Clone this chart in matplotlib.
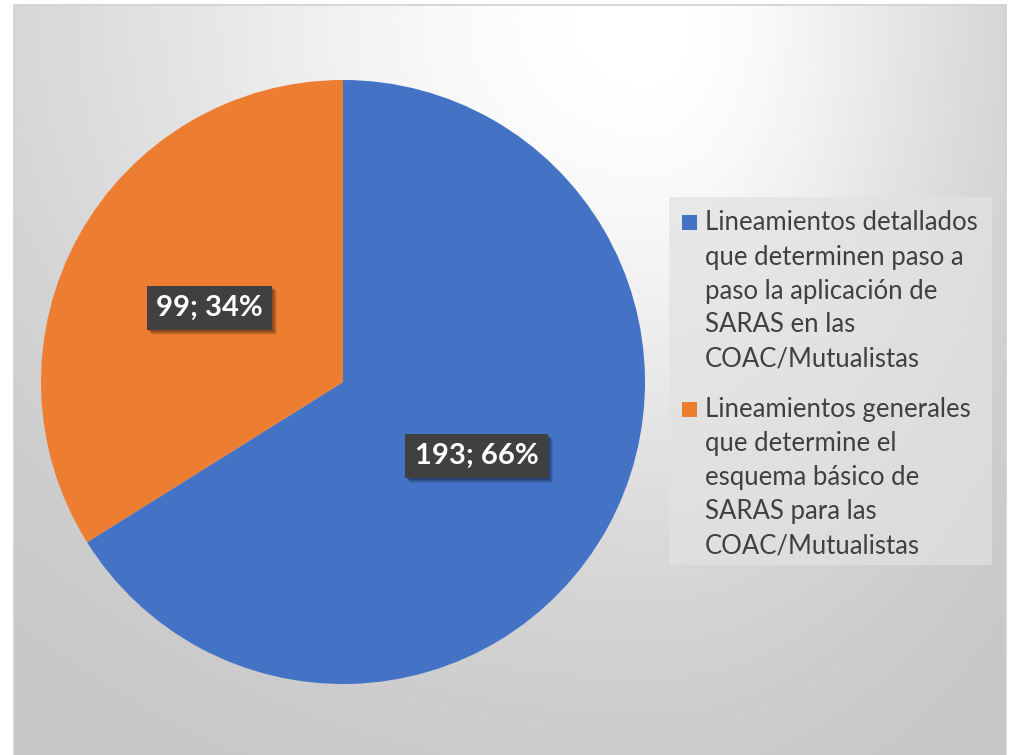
import numpy as np
import matplotlib
matplotlib.use("Agg")
import matplotlib.pyplot as plt
from matplotlib.patches import Rectangle
from matplotlib.transforms import IdentityTransform

plt.rcParams['font.family'] = ['Lato', 'DejaVu Sans']

# Survey answers
categories = [
    "Lineamientos detallados\nque determinen paso a\npaso la aplicación de\nSARAS en las\nCOAC/Mutualistas",
    "Lineamientos generales\nque determine el\nesquema básico de\nSARAS para las\nCOAC/Mutualistas",
]
counts = [193, 99]
colors = ["#4472C4", "#ED7D31"]

W, H = 1011, 755
fig = plt.figure(figsize=(W / 100, H / 100), dpi=100)
fig.patch.set_facecolor("white")

# Chart-area background: soft radial light falloff
bg = fig.add_axes([0, 0, 1, 1])
bg.set_xlim(0, W)
bg.set_ylim(H, 0)
bg.axis("off")
x0, x1, y0, y1 = 14, 1006, 5, H
xs = np.arange(x0, x1) + 0.5
ys = np.arange(y0, y1) + 0.5
X, Y = np.meshgrid(xs, ys)
cx, cy = 650, 20
sx = np.where(X < cx, 600.0, 330.0)
g = np.exp(-(((X - cx) / sx) ** 2 + ((Y - cy) / 520.0) ** 2))
v = (195 + 60 * g) / 255.0
bg.imshow(v, cmap="gray", vmin=0, vmax=1, extent=(x0, x1, y1, y0),
          interpolation="bilinear", aspect="auto", zorder=0)
bg.add_patch(Rectangle((x0, y0), x1 - x0, y1 - y0 + 5, fill=False,
                       edgecolor="#D0D0D0", linewidth=1.2, zorder=1))

# Pie
pcx, pcy, r = 343, 382, 302
ax = fig.add_axes([(pcx - r) / W, (H - pcy - r) / H, 2 * r / W, 2 * r / H])
total = sum(counts)
wedges, _ = ax.pie(counts, colors=colors, startangle=90, counterclock=False,
                   radius=1.0, wedgeprops=dict(linewidth=0))
ax.set_xlim(-1, 1)
ax.set_ylim(-1, 1)
ax.set_aspect("equal")
ax.axis("off")

# Data labels: "value; percent" in dark boxes
labels = []
angle = 90.0
for w, c in zip(wedges, counts):
    frac = c / total
    mid = np.deg2rad(angle - frac * 360 / 2)
    angle -= frac * 360
    lx, ly = 0.505 * np.cos(mid), 0.505 * np.sin(mid)
    txt = f"{c}; {round(frac * 100):d}%"
    t = ax.text(lx, ly, txt, ha="center", va="center", fontsize=21,
                fontweight="bold", color="white", zorder=5,
                bbox=dict(boxstyle="square,pad=0.32", facecolor="#404040",
                          edgecolor="none"))
    labels.append(t)

# Soft drop shadows beneath the label boxes
fig.canvas.draw()
renderer = fig.canvas.get_renderer()
for t in labels:
    ext = t.get_bbox_patch().get_window_extent(renderer)
    for k, a in ((5, 0.07), (4, 0.10), (3, 0.13), (2, 0.16)):
        ax.add_artist(Rectangle((ext.x0 + k, ext.y0 - k), ext.width,
                                ext.height, transform=IdentityTransform(),
                                facecolor=(0, 0, 0, a), edgecolor="none",
                                zorder=4, clip_on=False))

# Legend panel drawn in pixel coordinates
lg = fig.add_axes([0, 0, 1, 1])
lg.set_xlim(0, W)
lg.set_ylim(H, 0)
lg.axis("off")
lg.add_patch(Rectangle((669, 197), 323, 368, facecolor="#E2E2E2",
                       alpha=0.7, edgecolor="none"))
line_h = 34
entry_top = [223, 410]
for w, label, top in zip(wedges, categories, entry_top):
    lg.add_patch(Rectangle((682, top - 8), 15, 15,
                           facecolor=w.get_facecolor(), edgecolor="none"))
    for i, line in enumerate(label.split("\n")):
        lg.text(705, top + i * line_h, line, ha="left", va="center",
                fontsize=18.5, color="#404040")

fig.savefig("out.png", dpi=100)
